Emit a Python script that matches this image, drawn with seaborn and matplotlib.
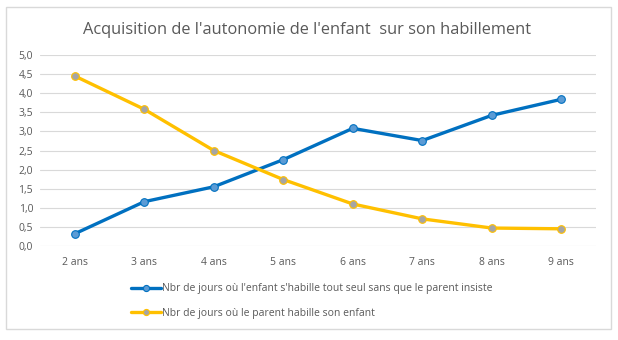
import matplotlib
matplotlib.use("Agg")
import matplotlib.pyplot as plt
import matplotlib.patches as mpatches
import seaborn as sns
import pandas as pd

categories = ["2 ans", "3 ans", "4 ans", "5 ans", "6 ans", "7 ans", "8 ans", "9 ans"]
enfant_seul = [0.32, 1.16, 1.55, 2.26, 3.08, 2.76, 3.42, 3.84]
parent_habille = [4.45, 3.58, 2.50, 1.74, 1.10, 0.71, 0.47, 0.45]
label_seul = "Nbr de jours où l'enfant s'habille tout seul sans que le parent insiste"
label_parent = "Nbr de jours où le parent habille son enfant"
title = "Acquisition de l'autonomie de l'enfant  sur son habillement"
yticks = [0.0, 0.5, 1.0, 1.5, 2.0, 2.5, 3.0, 3.5, 4.0, 4.5, 5.0]

sns.set_style("white")
plt.rcParams["font.family"] = ["Open Sans", "DejaVu Sans"]

fig = plt.figure(figsize=(6.18, 3.40), dpi=100)
W, H = 618, 340
ax = fig.add_axes([40 / W, 1 - 246 / H, (596 - 40) / W, (246 - 55) / H])

df1 = pd.DataFrame({"age": categories, "val": enfant_seul})
df2 = pd.DataFrame({"age": categories, "val": parent_habille})

sns.lineplot(data=df1, x="age", y="val", ax=ax, sort=False, color="#0070C0",
             linewidth=2.4, marker="o", markersize=5.5, markerfacecolor="#5B9BD5",
             markeredgecolor="#0070C0", markeredgewidth=0.8, label=label_seul)
sns.lineplot(data=df2, x="age", y="val", ax=ax, sort=False, color="#FFC000",
             linewidth=2.4, marker="o", markersize=5.5, markerfacecolor="#A5A5A5",
             markeredgecolor="#FFC000", markeredgewidth=0.8, label=label_parent)

ax.set_xlim(-0.5, len(categories) - 0.5)
ax.set_ylim(0, 5)
ax.set_yticks(yticks)
ax.set_yticklabels([f"{v:.1f}".replace(".", ",") for v in yticks])
ax.grid(axis="y", color="#D9D9D9", linewidth=0.8)
ax.set_axisbelow(True)
for s in ax.spines.values():
    s.set_visible(False)
ax.tick_params(axis="both", length=0, labelsize=7.5, colors="#595959", pad=5)
ax.tick_params(axis="x", pad=8)
ax.set_xlabel("")
ax.set_ylabel("")

fig.text(307 / W, 1 - 30 / H, title, ha="center", va="center", fontsize=11.8, color="#595959")

leg = ax.legend(loc="upper left", bbox_to_anchor=(127 / W, 1 - 279 / H),
                bbox_transform=fig.transFigure, frameon=False, fontsize=7.5,
                handlelength=2.9, handletextpad=0.1, labelspacing=1.3, borderaxespad=0,
                markerscale=0.8)
for t in leg.get_texts():
    t.set_color("#595959")

fig.patches.append(mpatches.Rectangle((6 / W, 1 - 329 / H), (611 - 6) / W, (329 - 7) / H,
                                      transform=fig.transFigure, fill=False,
                                      edgecolor="#D9D9D9", linewidth=1))

fig.savefig("out.png", dpi=100)
